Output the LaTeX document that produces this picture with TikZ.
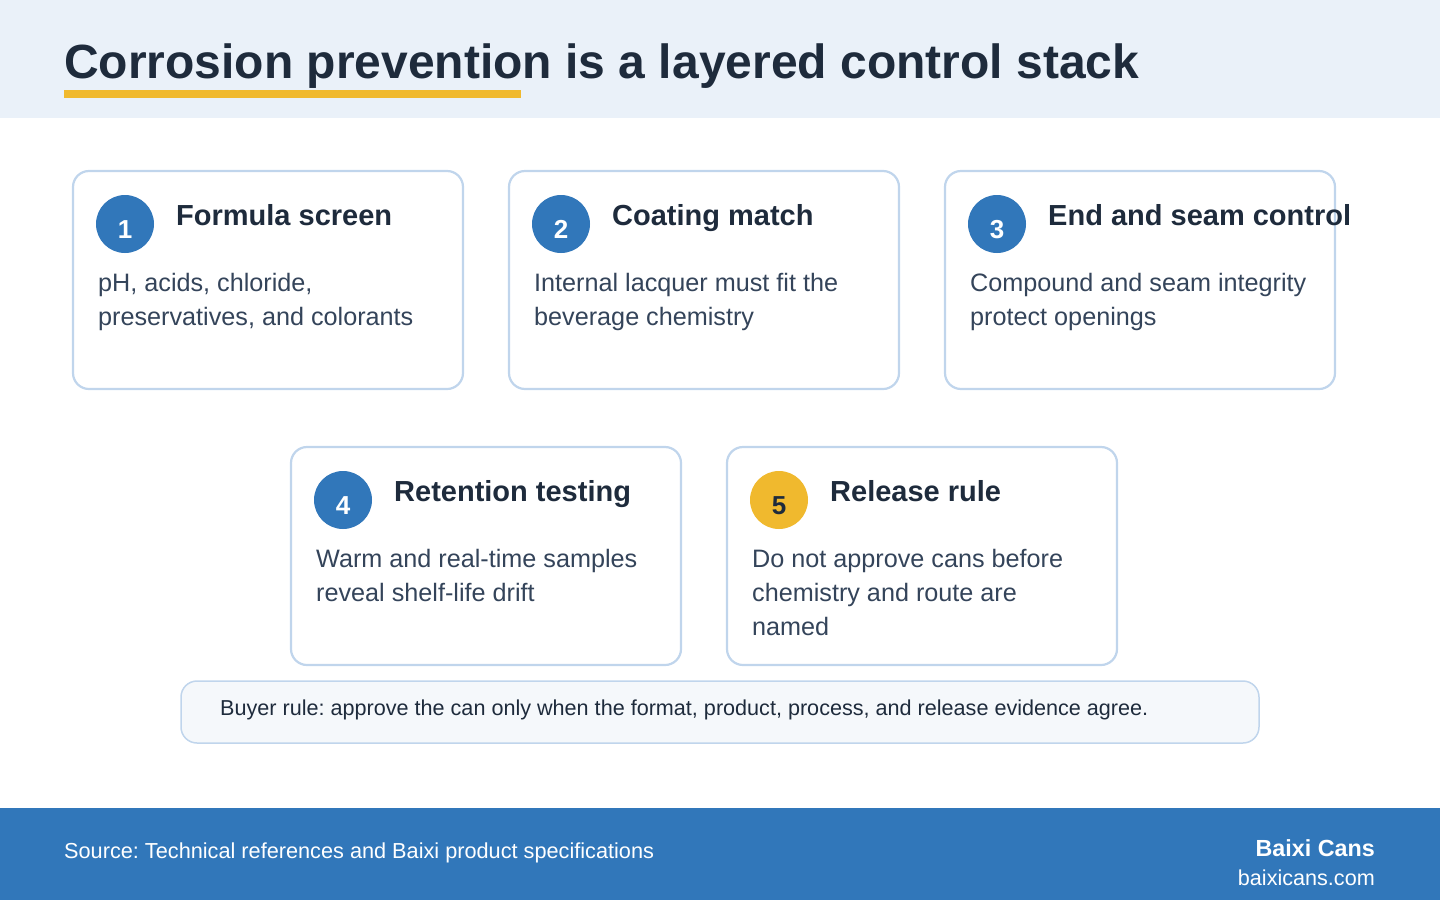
\documentclass[tikz,border=0pt]{standalone}
\usepackage{fontspec}
\setmainfont{Liberation Sans}
\frenchspacing
\definecolor{headbg}{HTML}{EAF1F9}
\definecolor{accent}{HTML}{F0B92E}
\definecolor{navy}{HTML}{1E2B3C}
\definecolor{bodytx}{HTML}{34445A}
\definecolor{cardline}{HTML}{C0D5EC}
\definecolor{blue}{HTML}{3177BA}
\definecolor{notebg}{HTML}{F5F8FB}
\tikzset{
  card/.style={draw=cardline, line width=2.2pt, rounded corners=16pt, fill=white},
  badge/.style={circle, fill=blue, minimum size=58pt, inner sep=0pt},
  badgey/.style={circle, fill=accent, minimum size=58pt, inner sep=0pt},
  numtxt/.style={anchor=base, font=\fontsize{26}{28}\selectfont\bfseries},
  cardtitle/.style={anchor=base west, inner sep=0pt, text=navy, font=\fontsize{29}{32}\selectfont\bfseries},
  cardbody/.style={anchor=base west, inner sep=0pt, text=bodytx, font=\fontsize{25.2}{34}\selectfont},
}
\newcommand{\twoline}[1]{\vtop{\halign{##\hfil\cr#1\crcr}}}
\begin{document}
\begin{tikzpicture}[x=1pt,y=-1pt]
\useasboundingbox (0,0) rectangle (1440,900);
% header
\fill[headbg] (0,0) rectangle (1440,118);
\node[anchor=base west, inner sep=0pt, text=navy, font=\fontsize{48}{52}\selectfont\bfseries] (title) at (64,78) {Corrosion prevention is a layered control stack};
\fill[accent] (64,90) rectangle (521,98);
% cards
\newcommand{\mkcard}[6]{%
  \draw[card] (#1,#2) rectangle ++(390,218);
  \node[#4] (b#3) at (#1+52,#2+53) {};
  \node[cardtitle] (t#3) at (#1+103,#2+54) {#5};
  \node[cardbody] (d#3) at (#1+25,#2+120) {\twoline{#6}};
}
\mkcard{73}{171}{1}{badge}{Formula screen}{pH, acids, chloride,\cr preservatives, and colorants}
\node[numtxt, text=white] at (125,238) {1};
\mkcard{509}{171}{2}{badge}{Coating match}{Internal lacquer must fit the\cr beverage chemistry}
\node[numtxt, text=white] at (561,238) {2};
\mkcard{945}{171}{3}{badge}{End and seam control}{Compound and seam integrity\cr protect openings}
\node[numtxt, text=white] at (997,238) {3};
\mkcard{291}{447}{4}{badge}{Retention testing}{Warm and real-time samples\cr reveal shelf-life drift}
\node[numtxt, text=white] at (343,514) {4};
\mkcard{727}{447}{5}{badgey}{Release rule}{Do not approve cans before\cr chemistry and route are\cr named}
\node[numtxt, text=navy] at (779,514) {5};
% buyer rule
\draw[draw=cardline, line width=1.5pt, fill=notebg, rounded corners=16pt] (181,681) rectangle (1259,743);
\node[anchor=base west, inner sep=0pt, text=navy, font=\fontsize{21.6}{24}\selectfont] (rule) at (220,715) {Buyer rule: approve the can only when the format, product, process, and release evidence agree.};
% footer
\fill[blue] (0,808) rectangle (1440,900);
\node[anchor=base west, inner sep=0pt, text=white, font=\fontsize{21.7}{24}\selectfont] (src) at (64,858) {Source: Technical references and Baixi product specifications};
\node[anchor=base east, inner sep=0pt, text=white, font=\fontsize{23.3}{26}\selectfont\bfseries] (brand) at (1375,856) {Baixi Cans};
\node[anchor=base east, inner sep=0pt, text=white, font=\fontsize{21.6}{24}\selectfont] (url) at (1375,885) {baixicans.com};
\end{tikzpicture}
\end{document}
